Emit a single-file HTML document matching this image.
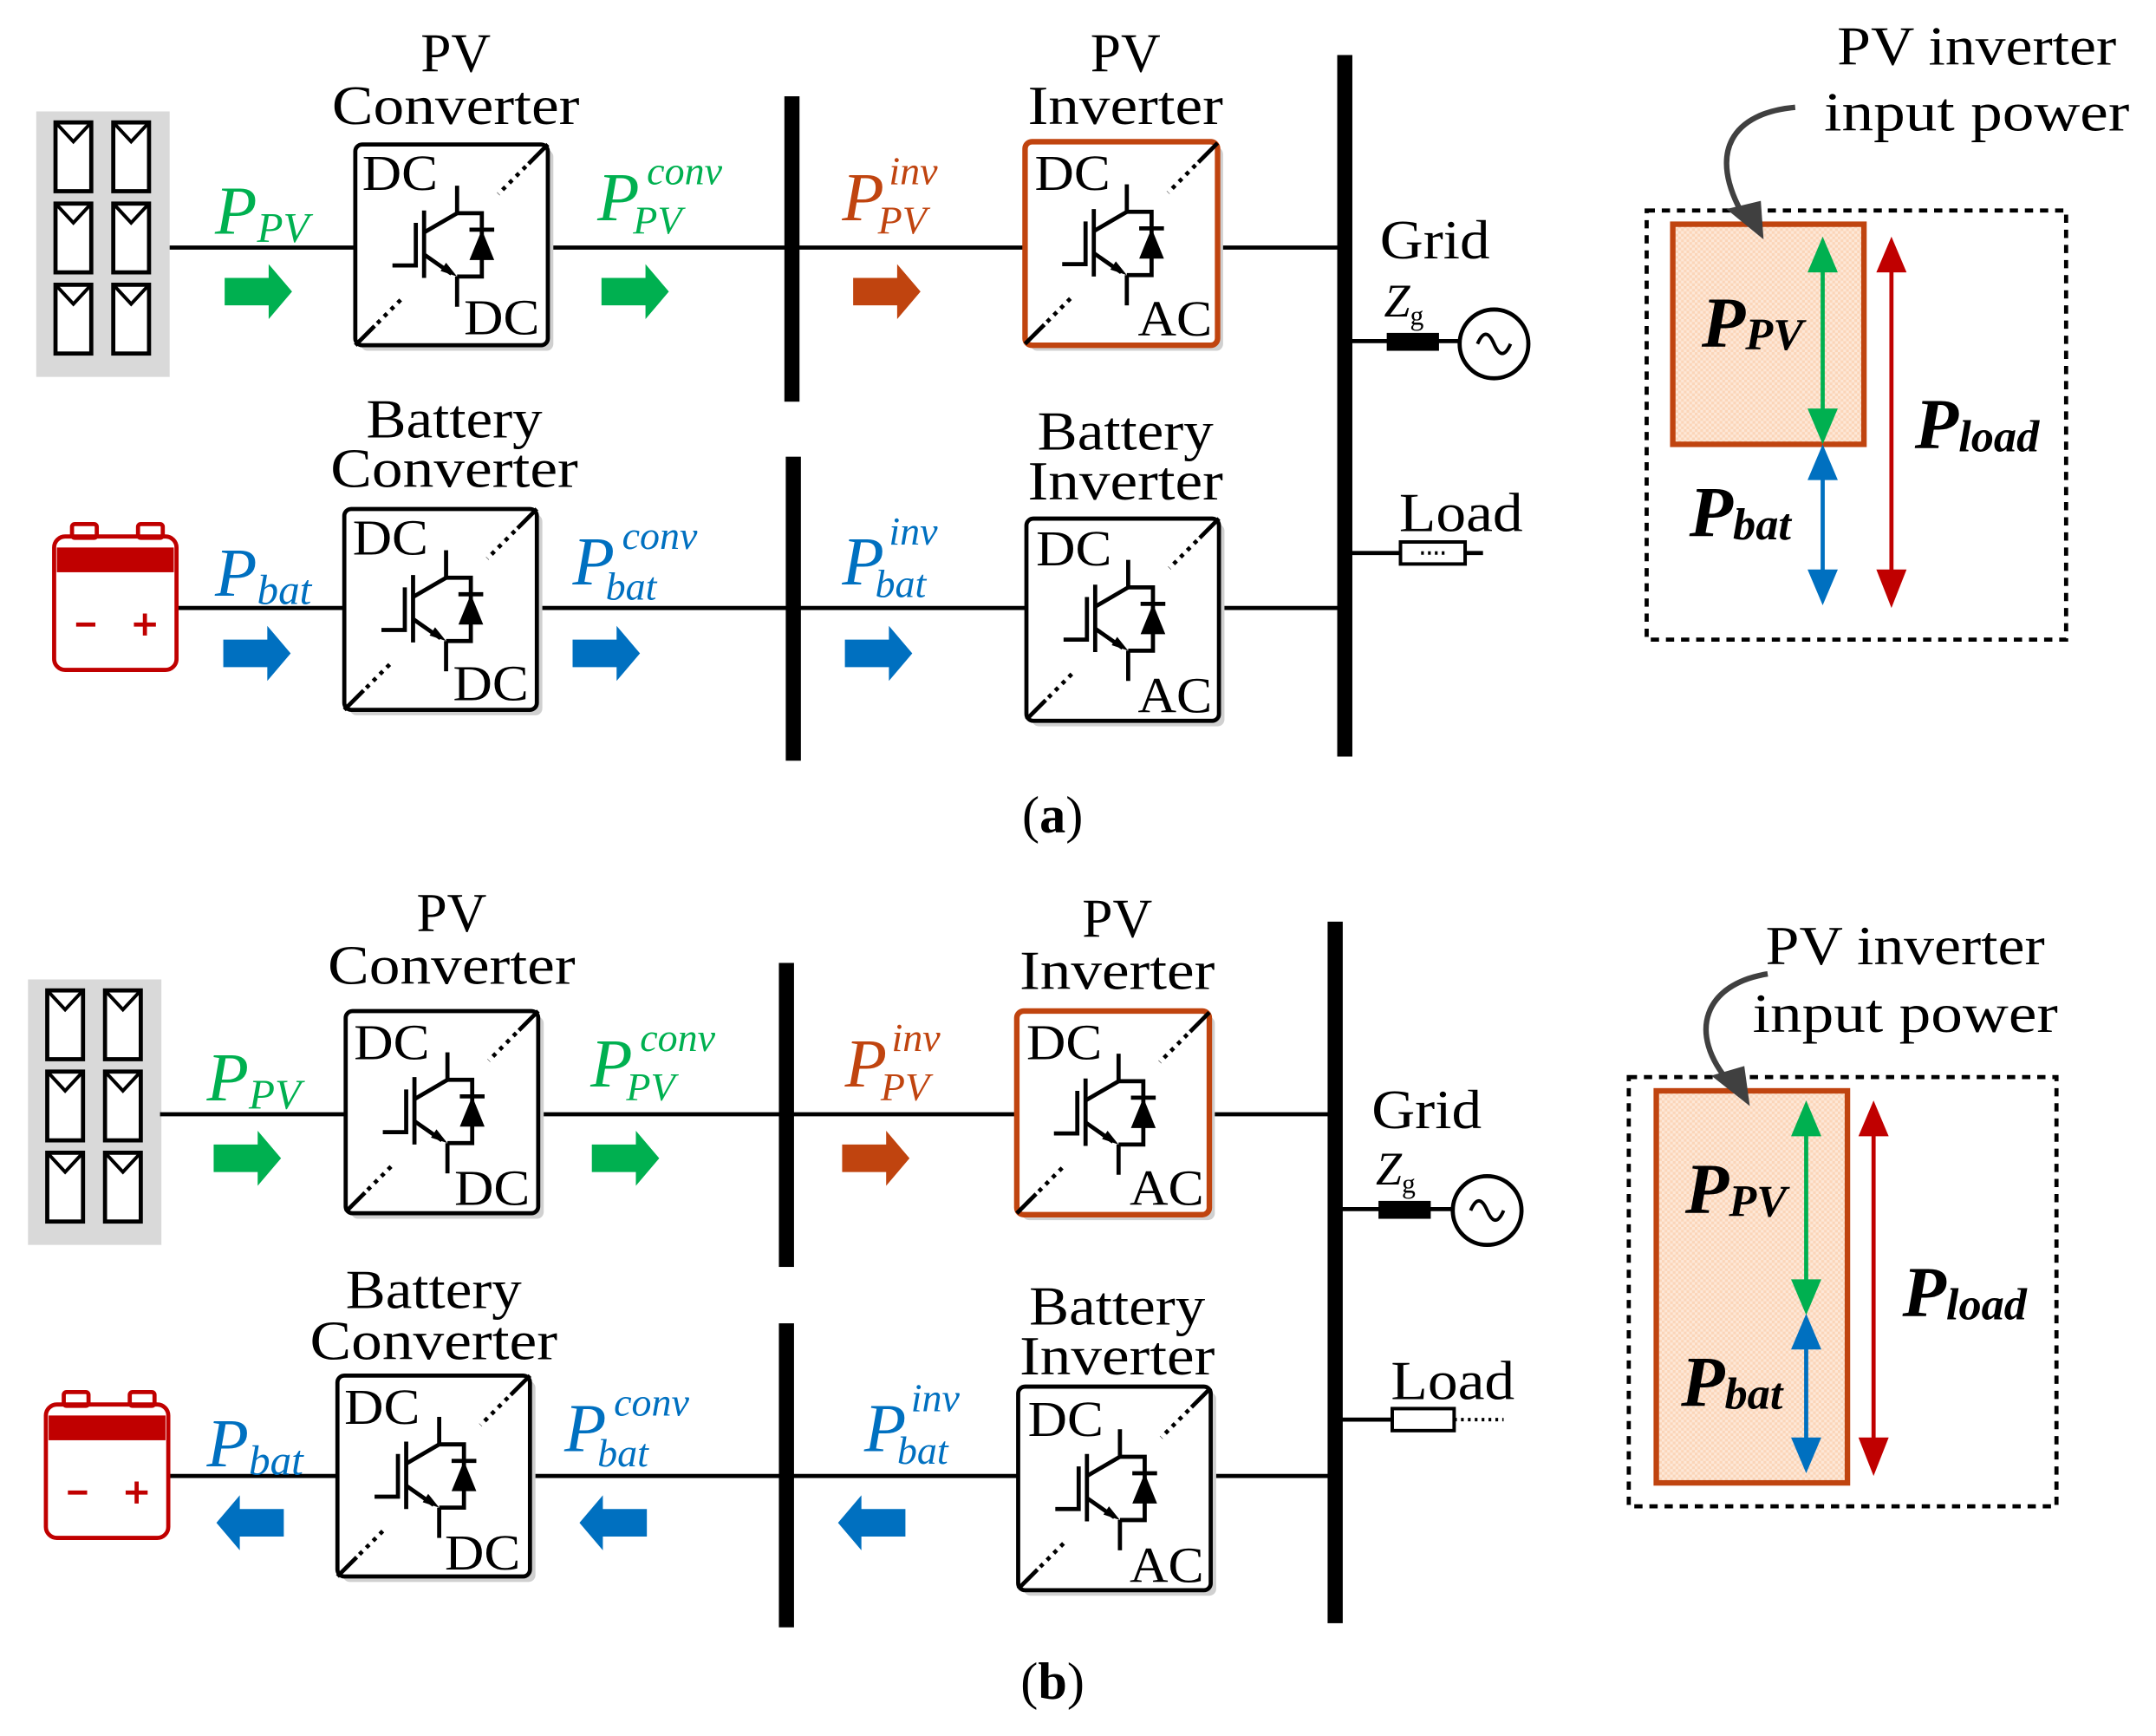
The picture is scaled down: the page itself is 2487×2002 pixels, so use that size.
<!DOCTYPE html>
<html><head><meta charset="utf-8"><style>html,body{margin:0;padding:0;background:#fff}svg{display:block}</style></head>
<body>
<svg width="2487" height="2002" viewBox="0 0 1567 1262" xmlns="http://www.w3.org/2000/svg" font-family="'Liberation Serif', serif">
<defs>
<pattern id="hatch" width="4" height="4" patternUnits="userSpaceOnUse"><rect width="4" height="4" fill="#fde8d8"/><rect width="2" height="2" fill="#fbd5b8"/><rect x="2" y="2" width="2" height="2" fill="#fbd5b8"/></pattern>
<g id="sw">
  <line x1="0" y1="146" x2="14" y2="132" stroke="#000" stroke-width="3"/>
  <line x1="16" y1="130" x2="34" y2="112" stroke="#000" stroke-width="3" stroke-dasharray="3,4"/>
  <line x1="140" y1="0" x2="126" y2="14" stroke="#000" stroke-width="3"/>
  <line x1="124" y1="16" x2="104" y2="36" stroke="#000" stroke-width="3" stroke-dasharray="3,4"/>
  <g stroke="#000" stroke-width="3" fill="none">
    <line x1="74" y1="30" x2="74" y2="50"/>
    <line x1="74" y1="96" x2="74" y2="118"/>
    <line x1="50" y1="48" x2="50" y2="97"/>
    <polyline points="27,88 44,88 44,57"/>
    <line x1="50" y1="64" x2="74" y2="50"/>
    <line x1="50" y1="80" x2="70" y2="94"/>
    <polyline points="74,50 92,50 92,96 74,96"/>
    <line x1="83" y1="62" x2="101" y2="62"/>
  </g>
  <polygon points="83,84 101,84 92,62" fill="#000"/>
  <polygon points="74,96 62,92 66,86" fill="#000"/>
</g>
<g id="blk"><path d="M0,-10 H32 V-20 L49,0 L32,20 V10 H0 Z"/></g>
<g id="blkL"><path d="M0,-10 H-32 V-20 L-49,0 L-32,20 V10 H0 Z"/></g>
<g id="pv">
  <rect x="0" y="0" width="97" height="193" fill="#d9d9d9"/>
  <g fill="#fff" stroke="#000" stroke-width="3">
    <rect x="14" y="8" width="26" height="50"/><rect x="56" y="8" width="26" height="50"/>
    <rect x="14" y="67" width="26" height="50"/><rect x="56" y="67" width="26" height="50"/>
    <rect x="14" y="126" width="26" height="50"/><rect x="56" y="126" width="26" height="50"/>
  </g>
  <g fill="none" stroke="#000" stroke-width="2.5">
    <polyline points="14,8 27,22 40,8"/><polyline points="56,8 69,22 82,8"/>
    <polyline points="14,67 27,81 40,67"/><polyline points="56,67 69,81 82,67"/>
    <polyline points="14,126 27,140 40,126"/><polyline points="56,126 69,140 82,126"/>
  </g>
</g>
<g id="bat">
  <rect x="0" y="9" width="89" height="97" rx="8" fill="#fff" stroke="#c00000" stroke-width="3"/>
  <rect x="13" y="0" width="18" height="10" rx="2" fill="none" stroke="#c00000" stroke-width="3"/>
  <rect x="61" y="0" width="18" height="10" rx="2" fill="none" stroke="#c00000" stroke-width="3"/>
  <rect x="2" y="17" width="85" height="18" fill="#c00000"/>
  <line x1="16" y1="73" x2="30" y2="73" stroke="#c00000" stroke-width="3"/>
  <line x1="58" y1="73" x2="74" y2="73" stroke="#c00000" stroke-width="3"/>
  <line x1="66" y1="65" x2="66" y2="81" stroke="#c00000" stroke-width="3"/>
</g>
</defs>

<!-- ============ (a) ============ -->
<use href="#pv" x="26" y="81"/>
<g stroke="#000" stroke-width="3">
  <line x1="123" y1="180" x2="258" y2="180"/><line x1="398" y1="180" x2="745" y2="180"/><line x1="886" y1="180" x2="977" y2="180"/>
  <line x1="128" y1="442" x2="250" y2="442"/><line x1="390" y1="442" x2="746" y2="442"/><line x1="886" y1="442" x2="977" y2="442"/>
  <line x1="977" y1="248" x2="1062" y2="248"/><line x1="977" y1="402" x2="1078" y2="402"/>
</g>
<rect x="570" y="70" width="11" height="222" fill="#000"/>
<rect x="571" y="332" width="11" height="221" fill="#000"/>
<rect x="972" y="40" width="11" height="510" fill="#000"/>
<rect x="1008" y="242" width="38" height="13" fill="#000"/>
<circle cx="1086" cy="250" r="25" fill="#fff" stroke="#000" stroke-width="3"/>
<path d="M1074,250 q6,-14 12,0 t12,0" fill="none" stroke="#000" stroke-width="2.5"/>
<rect x="1018" y="394" width="47" height="16" fill="#fff" stroke="#000" stroke-width="2.5"/>
<line x1="1033" y1="402" x2="1052" y2="402" stroke="#000" stroke-width="2.5" stroke-dasharray="2,3"/>

<rect x="262" y="109" width="140" height="146" rx="5" fill="#d0d0d0"/>
<rect x="258" y="105" width="140" height="146" rx="5" fill="#fff" stroke="#000" stroke-width="3"/>
<use href="#sw" x="258" y="105"/>
<rect x="749" y="107" width="140" height="148" rx="5" fill="#d0d0d0"/>
<rect x="745" y="103" width="140" height="148" rx="5" fill="#fff" stroke="#c0440f" stroke-width="4"/>
<use href="#sw" x="745" y="104"/>
<rect x="254" y="374" width="140" height="146" rx="5" fill="#d0d0d0"/>
<rect x="250" y="370" width="140" height="146" rx="5" fill="#fff" stroke="#000" stroke-width="3"/>
<use href="#sw" x="250" y="370"/>
<rect x="750" y="381" width="140" height="147" rx="5" fill="#d0d0d0"/>
<rect x="746" y="377" width="140" height="147" rx="5" fill="#fff" stroke="#000" stroke-width="3"/>
<use href="#sw" x="746" y="377"/>

<g font-size="37" fill="#000">
  <text x="263" y="138" textLength="55" lengthAdjust="spacingAndGlyphs">DC</text><text x="337" y="243" textLength="55" lengthAdjust="spacingAndGlyphs">DC</text>
  <text x="752" y="138" textLength="55" lengthAdjust="spacingAndGlyphs">DC</text><text x="827" y="244" textLength="54" lengthAdjust="spacingAndGlyphs">AC</text>
  <text x="256" y="403" textLength="55" lengthAdjust="spacingAndGlyphs">DC</text><text x="329" y="509" textLength="55" lengthAdjust="spacingAndGlyphs">DC</text>
  <text x="753" y="411" textLength="55" lengthAdjust="spacingAndGlyphs">DC</text><text x="827" y="518" textLength="54" lengthAdjust="spacingAndGlyphs">AC</text>
</g>
<g font-size="40" text-anchor="middle">
  <text x="331" y="52" textLength="51" lengthAdjust="spacingAndGlyphs">PV</text><text x="331" y="90" textLength="180" lengthAdjust="spacingAndGlyphs">Converter</text>
  <text x="818" y="52" textLength="51" lengthAdjust="spacingAndGlyphs">PV</text><text x="818" y="90" textLength="142" lengthAdjust="spacingAndGlyphs">Inverter</text>
  <text x="330" y="318" textLength="128" lengthAdjust="spacingAndGlyphs">Battery</text><text x="330" y="354" textLength="180" lengthAdjust="spacingAndGlyphs">Converter</text>
  <text x="818" y="327" textLength="128" lengthAdjust="spacingAndGlyphs">Battery</text><text x="818" y="363" textLength="142" lengthAdjust="spacingAndGlyphs">Inverter</text>
</g>
<text x="1003" y="188" font-size="40" textLength="80" lengthAdjust="spacingAndGlyphs">Grid</text>
<text x="1006" y="230" font-size="34" font-style="italic">Z<tspan font-size="20" dy="6" font-style="normal">g</tspan></text>
<text x="1017" y="386" font-size="40" textLength="90" lengthAdjust="spacingAndGlyphs">Load</text>
<use href="#bat" x="39" y="381"/>

<g font-style="italic">
  <text x="156" y="170" font-size="50" fill="#00b050">P<tspan font-size="31" dy="6">PV</tspan></text>
  <text x="434" y="160" font-size="50" fill="#00b050">P</text><text x="470" y="134" font-size="29" fill="#00b050">conv</text><text x="460" y="170" font-size="29" fill="#00b050">PV</text>
  <text x="612" y="160" font-size="50" fill="#c0440f">P</text><text x="646" y="134" font-size="29" fill="#c0440f">inv</text><text x="638" y="170" font-size="29" fill="#c0440f">PV</text>
  <text x="156" y="433" font-size="50" fill="#0070c0">P<tspan font-size="31" dy="6">bat</tspan></text>
  <text x="416" y="425" font-size="50" fill="#0070c0">P</text><text x="452" y="399" font-size="29" fill="#0070c0">conv</text><text x="440" y="436" font-size="29" fill="#0070c0">bat</text>
  <text x="612" y="425" font-size="50" fill="#0070c0">P</text><text x="646" y="396" font-size="29" fill="#0070c0">inv</text><text x="636" y="434" font-size="29" fill="#0070c0">bat</text>
</g>
<use href="#blk" x="163" y="212" fill="#00b050"/>
<use href="#blk" x="437" y="212" fill="#00b050"/>
<use href="#blk" x="620" y="212" fill="#c0440f"/>
<use href="#blk" x="162" y="475" fill="#0070c0"/>
<use href="#blk" x="416" y="475" fill="#0070c0"/>
<use href="#blk" x="614" y="475" fill="#0070c0"/>
<text x="765" y="605" font-size="38" text-anchor="middle">(<tspan font-weight="bold">a</tspan>)</text>

<!-- right panel a -->
<text x="1437" y="47" font-size="40" text-anchor="middle" textLength="203" lengthAdjust="spacingAndGlyphs">PV inverter</text>
<text x="1437" y="95" font-size="40" text-anchor="middle" textLength="222" lengthAdjust="spacingAndGlyphs">input power</text>
<rect x="1197" y="153" width="305" height="312" fill="none" stroke="#000" stroke-width="3" stroke-dasharray="6,5"/>
<rect x="1216" y="163" width="139" height="160" fill="url(#hatch)" stroke="#c0440f" stroke-width="4"/>
<path d="M1305,78 C1260,82 1240,110 1268,158" fill="none" stroke="#404040" stroke-width="4"/>
<polygon points="1282,174 1255,152 1280,146" fill="#404040"/>
<g stroke-width="3">
  <line x1="1325" y1="185" x2="1325" y2="310" stroke="#00b050"/>
  <polygon points="1325,172 1314,198 1336,198" fill="#00b050"/><polygon points="1325,323 1314,297 1336,297" fill="#00b050"/>
  <line x1="1325" y1="335" x2="1325" y2="428" stroke="#0070c0"/>
  <polygon points="1325,323 1314,349 1336,349" fill="#0070c0"/><polygon points="1325,440 1314,414 1336,414" fill="#0070c0"/>
  <line x1="1375" y1="185" x2="1375" y2="428" stroke="#c00000"/>
  <polygon points="1375,172 1364,198 1386,198" fill="#c00000"/><polygon points="1375,442 1364,414 1386,414" fill="#c00000"/>
</g>
<g font-style="italic" font-weight="bold">
  <text x="1237" y="252" font-size="52">P<tspan font-size="33" dy="2">PV</tspan></text>
  <text x="1392" y="326" font-size="52">P<tspan font-size="33" dy="2">load</tspan></text>
  <text x="1228" y="390" font-size="52">P<tspan font-size="33" dy="2">bat</tspan></text>
</g>

<!-- ============ (b) ============ -->
<use href="#pv" x="20" y="712"/>
<g stroke="#000" stroke-width="3">
  <line x1="116" y1="810" x2="251" y2="810"/><line x1="391" y1="810" x2="739" y2="810"/><line x1="879" y1="810" x2="970" y2="810"/>
  <line x1="122" y1="1073" x2="245" y2="1073"/><line x1="385" y1="1073" x2="740" y2="1073"/><line x1="880" y1="1073" x2="970" y2="1073"/>
  <line x1="970" y1="879" x2="1057" y2="879"/><line x1="970" y1="1032" x2="1012" y2="1032"/>
</g>
<line x1="1057" y1="1032" x2="1093" y2="1032" stroke="#000" stroke-width="2.5" stroke-dasharray="2,3"/>
<rect x="566" y="700" width="11" height="221" fill="#000"/>
<rect x="566" y="962" width="11" height="221" fill="#000"/>
<rect x="965" y="670" width="11" height="510" fill="#000"/>
<rect x="1002" y="873" width="38" height="13" fill="#000"/>
<circle cx="1081" cy="880" r="25" fill="#fff" stroke="#000" stroke-width="3"/>
<path d="M1069,880 q6,-14 12,0 t12,0" fill="none" stroke="#000" stroke-width="2.5"/>
<rect x="1012" y="1024" width="45" height="16" fill="#fff" stroke="#000" stroke-width="2.5"/>

<rect x="255" y="739" width="140" height="147" rx="5" fill="#d0d0d0"/>
<rect x="251" y="735" width="140" height="147" rx="5" fill="#fff" stroke="#000" stroke-width="3"/>
<use href="#sw" x="251" y="735"/>
<rect x="743" y="739" width="140" height="148" rx="5" fill="#d0d0d0"/>
<rect x="739" y="735" width="140" height="148" rx="5" fill="#fff" stroke="#c0440f" stroke-width="4"/>
<use href="#sw" x="739" y="736"/>
<rect x="249" y="1004" width="140" height="146" rx="5" fill="#d0d0d0"/>
<rect x="245" y="1000" width="140" height="146" rx="5" fill="#fff" stroke="#000" stroke-width="3"/>
<use href="#sw" x="245" y="1000"/>
<rect x="744" y="1012" width="140" height="148" rx="5" fill="#d0d0d0"/>
<rect x="740" y="1008" width="140" height="148" rx="5" fill="#fff" stroke="#000" stroke-width="3"/>
<use href="#sw" x="740" y="1009"/>

<g font-size="37" fill="#000">
  <text x="257" y="770" textLength="55" lengthAdjust="spacingAndGlyphs">DC</text><text x="330" y="876" textLength="55" lengthAdjust="spacingAndGlyphs">DC</text>
  <text x="746" y="770" textLength="55" lengthAdjust="spacingAndGlyphs">DC</text><text x="821" y="876" textLength="54" lengthAdjust="spacingAndGlyphs">AC</text>
  <text x="250" y="1035" textLength="55" lengthAdjust="spacingAndGlyphs">DC</text><text x="323" y="1141" textLength="55" lengthAdjust="spacingAndGlyphs">DC</text>
  <text x="747" y="1044" textLength="55" lengthAdjust="spacingAndGlyphs">DC</text><text x="821" y="1150" textLength="54" lengthAdjust="spacingAndGlyphs">AC</text>
</g>
<g font-size="40" text-anchor="middle">
  <text x="328" y="677" textLength="51" lengthAdjust="spacingAndGlyphs">PV</text><text x="328" y="715" textLength="180" lengthAdjust="spacingAndGlyphs">Converter</text>
  <text x="812" y="681" textLength="51" lengthAdjust="spacingAndGlyphs">PV</text><text x="812" y="719" textLength="142" lengthAdjust="spacingAndGlyphs">Inverter</text>
  <text x="315" y="951" textLength="128" lengthAdjust="spacingAndGlyphs">Battery</text><text x="315" y="988" textLength="180" lengthAdjust="spacingAndGlyphs">Converter</text>
  <text x="812" y="963" textLength="128" lengthAdjust="spacingAndGlyphs">Battery</text><text x="812" y="999" textLength="142" lengthAdjust="spacingAndGlyphs">Inverter</text>
</g>
<text x="997" y="820" font-size="40" textLength="80" lengthAdjust="spacingAndGlyphs">Grid</text>
<text x="1000" y="861" font-size="34" font-style="italic">Z<tspan font-size="20" dy="6" font-style="normal">g</tspan></text>
<text x="1011" y="1017" font-size="40" textLength="90" lengthAdjust="spacingAndGlyphs">Load</text>
<use href="#bat" x="33" y="1012"/>

<g font-style="italic">
  <text x="150" y="800" font-size="50" fill="#00b050">P<tspan font-size="31" dy="6">PV</tspan></text>
  <text x="429" y="790" font-size="50" fill="#00b050">P</text><text x="465" y="764" font-size="29" fill="#00b050">conv</text><text x="455" y="800" font-size="29" fill="#00b050">PV</text>
  <text x="614" y="790" font-size="50" fill="#c0440f">P</text><text x="648" y="764" font-size="29" fill="#c0440f">inv</text><text x="640" y="800" font-size="29" fill="#c0440f">PV</text>
  <text x="150" y="1066" font-size="50" fill="#0070c0">P<tspan font-size="31" dy="6">bat</tspan></text>
  <text x="410" y="1055" font-size="50" fill="#0070c0">P</text><text x="446" y="1029" font-size="29" fill="#0070c0">conv</text><text x="434" y="1066" font-size="29" fill="#0070c0">bat</text>
  <text x="628" y="1055" font-size="50" fill="#0070c0">P</text><text x="662" y="1026" font-size="29" fill="#0070c0">inv</text><text x="652" y="1064" font-size="29" fill="#0070c0">bat</text>
</g>
<use href="#blk" x="155" y="842" fill="#00b050"/>
<use href="#blk" x="430" y="842" fill="#00b050"/>
<use href="#blk" x="612" y="842" fill="#c0440f"/>
<use href="#blkL" x="206" y="1107" fill="#0070c0"/>
<use href="#blkL" x="470" y="1107" fill="#0070c0"/>
<use href="#blkL" x="658" y="1107" fill="#0070c0"/>
<text x="765" y="1235" font-size="38" text-anchor="middle">(<tspan font-weight="bold">b</tspan>)</text>

<!-- right panel b -->
<text x="1385" y="701" font-size="40" text-anchor="middle" textLength="203" lengthAdjust="spacingAndGlyphs">PV inverter</text>
<text x="1385" y="750" font-size="40" text-anchor="middle" textLength="222" lengthAdjust="spacingAndGlyphs">input power</text>
<rect x="1184" y="783" width="311" height="312" fill="none" stroke="#000" stroke-width="3" stroke-dasharray="6,5"/>
<rect x="1204" y="793" width="139" height="285" fill="url(#hatch)" stroke="#c0440f" stroke-width="4"/>
<path d="M1285,708 C1240,715 1225,750 1258,788" fill="none" stroke="#404040" stroke-width="4"/>
<polygon points="1272,804 1244,782 1268,775" fill="#404040"/>
<g stroke-width="3">
  <line x1="1313" y1="813" x2="1313" y2="943" stroke="#00b050"/>
  <polygon points="1313,800 1302,826 1324,826" fill="#00b050"/><polygon points="1313,956 1302,930 1324,930" fill="#00b050"/>
  <line x1="1313" y1="968" x2="1313" y2="1058" stroke="#0070c0"/>
  <polygon points="1313,955 1302,981 1324,981" fill="#0070c0"/><polygon points="1313,1071 1302,1045 1324,1045" fill="#0070c0"/>
  <line x1="1362" y1="813" x2="1362" y2="1060" stroke="#c00000"/>
  <polygon points="1362,800 1351,826 1373,826" fill="#c00000"/><polygon points="1362,1073 1351,1045 1373,1045" fill="#c00000"/>
</g>
<g font-style="italic" font-weight="bold">
  <text x="1225" y="882" font-size="52">P<tspan font-size="33" dy="2">PV</tspan></text>
  <text x="1383" y="957" font-size="52">P<tspan font-size="33" dy="2">load</tspan></text>
  <text x="1222" y="1022" font-size="52">P<tspan font-size="33" dy="2">bat</tspan></text>
</g>
</svg>
</body></html>
